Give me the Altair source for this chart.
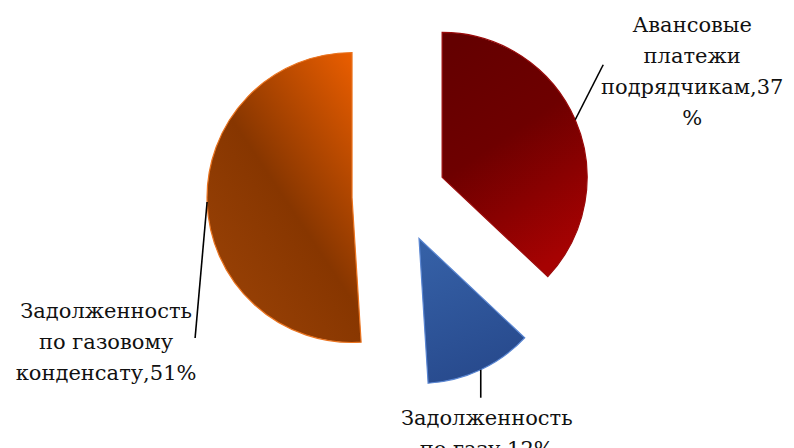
import altair as alt
import pandas as pd

# ---- data ----
categories = [
    "Авансовые платежи подрядчикам",
    "Задолженность по газу",
    "Задолженность по газовому конденсату",
]
values = [37, 12, 51]
labels = [
    "Авансовые\nплатежи\nподрядчикам,37\n%",
    "Задолженность\nпо газу,12%",
    "Задолженность\nпо газовому\nконденсату,51%",
]

# ---- style / layout ----
CX, CY = 391, 188          # pie centre (pixels in plot area)
EXPLODE = 47               # slice explosion distance
R = 145                    # outer radius
leader_dx = [28, 0, -12]   # leader line end, relative to arc edge at mid-angle
leader_dy = [-55, 28, 136]
label_dx = [117, 6, -101]  # label anchor, relative to arc edge at mid-angle
label_dy = [-88, 55, 116]

fills = [
    alt.LinearGradient(gradient="linear", x1=0.2, y1=0, x2=0.6, y2=1,
                       stops=[alt.GradientStop(offset=0, color="#640000"),
                              alt.GradientStop(offset=0.45, color="#6e0000"),
                              alt.GradientStop(offset=1, color="#a60202")]),
    alt.LinearGradient(gradient="linear", x1=0.3, y1=0, x2=0.6, y2=1,
                       stops=[alt.GradientStop(offset=0, color="#3560a6"),
                              alt.GradientStop(offset=1, color="#27498c")]),
    alt.LinearGradient(gradient="linear", x1=1, y1=0, x2=0.2, y2=1,
                       stops=[alt.GradientStop(offset=0, color="#f06000"),
                              alt.GradientStop(offset=0.55, color="#873600"),
                              alt.GradientStop(offset=1, color="#9a4206")]),
]
strokes = ["#9a0a0a", "#5a86d2", "#ea7420"]

FONT = "DejaVu Serif"

df = pd.DataFrame({
    "order": list(range(len(values))),
    "category": categories,
    "value": values,
    "label": labels,
    "ldx": leader_dx,
    "ldy": leader_dy,
    "tdx": label_dx,
    "tdy": label_dy,
})

arcs = [
    alt.Chart()
    .transform_filter(alt.datum.order == i)
    .mark_arc(outerRadius=R, fill=fills[i], stroke=strokes[i], strokeWidth=1.2)
    .encode(
        theta=alt.Theta("a0:Q", scale=None),
        theta2="a1:Q",
        x=alt.X("cx:Q", scale=None),
        y=alt.Y("cy:Q", scale=None),
    )
    for i in range(len(values))
]

leaders = alt.Chart().mark_rule(color="#000000", strokeWidth=1.6).encode(
    x=alt.X("sx:Q", scale=None),
    y=alt.Y("sy:Q", scale=None),
    x2="ex:Q",
    y2="ey:Q",
)

texts = alt.Chart().mark_text(
    font=FONT, fontSize=21, align="center", baseline="alphabetic",
    lineBreak="\n", lineHeight=31, color="#111111",
).encode(
    x=alt.X("tx:Q", scale=None),
    y=alt.Y("ty:Q", scale=None),
    text="label:N",
)

chart = (
    alt.layer(*arcs, leaders, texts, data=df)
    .transform_window(cum="sum(value)", sort=[alt.SortField("order")], frame=[None, 0])
    .transform_joinaggregate(total="sum(value)")
    .transform_calculate(
        a0="(datum.cum - datum.value) / datum.total * 2 * PI",
        a1="datum.cum / datum.total * 2 * PI",
    )
    .transform_calculate(mid="(datum.a0 + datum.a1) / 2")
    .transform_calculate(
        cx=f"{CX} + {EXPLODE} * sin(datum.mid)",
        cy=f"{CY} - {EXPLODE} * cos(datum.mid)",
    )
    .transform_calculate(
        sx=f"datum.cx + {R} * sin(datum.mid)",
        sy=f"datum.cy - {R} * cos(datum.mid)",
    )
    .transform_calculate(
        ex="datum.sx + datum.ldx",
        ey="datum.sy + datum.ldy",
        tx="datum.sx + datum.tdx",
        ty="datum.sy + datum.tdy",
    )
    .properties(width=778, height=440, autosize=alt.AutoSizeParams(type="none"), padding=0)
    .configure_view(stroke=None)
    .configure_text(font=FONT)
)

chart.save("out.html", embed_options={"renderer": "svg", "actions": False})
